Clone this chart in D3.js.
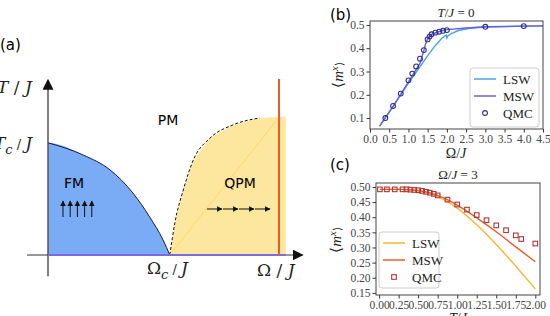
<!DOCTYPE html>
<html>
<head>
<meta charset="utf-8">
<script src="https://cdn.jsdelivr.net/npm/d3@7"></script>
<style>
  body { margin: 0; background: #fff; }
  svg { display: block; }
  .tick text { font-family: "Liberation Serif", serif; font-size: 11.5px; fill: #444; }
  .tick line { stroke: #333; }
  .domain { stroke: none; }
</style>
</head>
<body>
<div id="chart"></div>
<script>
// (a) phase diagram boundaries, [Omega/J, T/J] in schematic units
var fmBoundary = [[0, 0.66], [0.42, 0.588], [0.74, 0.5], [1.01, 0.365], [1.21, 0.224], [1.37, 0.088], [1.45, 0]];
var qpmBoundary = [[1.45, 0], [1.51, 0.188], [1.61, 0.382], [1.73, 0.559], [1.93, 0.688], [2.2, 0.765], [2.52, 0.806], [2.83, 0.814]];
var omegaC = 1.45, tC = 0.66, omegaCut = 2.75, omegaEnd = 2.83;

// (b) T/J = 0
var bQmcOmega = [0.4, 0.6, 0.8, 1.0, 1.1, 1.2, 1.3, 1.4, 1.5, 1.55, 1.6, 1.7, 1.8, 1.9, 2.0, 3.0, 4.0];
var bQmcM = [0.1, 0.152, 0.205, 0.262, 0.291, 0.322, 0.355, 0.392, 0.438, 0.45, 0.46, 0.467, 0.471, 0.475, 0.478, 0.492, 0.495];
var bMswOmega = [0.25, 0.6, 1.0, 1.3, 1.4, 1.45, 1.5, 1.6, 1.8, 2.0, 2.5, 3.0, 4.0, 4.5];
var bMswM = [0.065, 0.15, 0.255, 0.335, 0.39, 0.42, 0.44, 0.46, 0.472, 0.48, 0.487, 0.492, 0.495, 0.496];
var bLswOmega = [0.25, 0.6, 1.0, 1.3, 1.5, 1.7, 1.85, 1.95, 1.99, 2.0, 2.02, 2.1, 2.3, 2.6, 3.0, 4.0, 4.5];
var bLswM = [0.065, 0.15, 0.25, 0.32, 0.368, 0.412, 0.44, 0.453, 0.456, 0.445, 0.452, 0.462, 0.476, 0.486, 0.491, 0.495, 0.496];
var bXTicks = [0, 0.5, 1, 1.5, 2, 2.5, 3, 3.5, 4, 4.5];
var bYTicks = [0.1, 0.2, 0.3, 0.4, 0.5];

// (c) Omega/J = 3
var cQmcT = [0.01, 0.1, 0.2, 0.3, 0.35, 0.4, 0.45, 0.5, 0.55, 0.6, 0.65, 0.7, 0.75, 0.875, 1.0, 1.125, 1.25, 1.375, 1.5, 1.625, 1.75, 1.82, 2.0];
var cQmcM = [0.492, 0.492, 0.492, 0.492, 0.492, 0.491, 0.49, 0.489, 0.487, 0.484, 0.481, 0.477, 0.472, 0.458, 0.442, 0.425, 0.407, 0.39, 0.373, 0.357, 0.34, 0.328, 0.313];
var cMswT = [0.01, 0.25, 0.5, 0.75, 1.0, 1.25, 1.5, 1.75, 2.0];
var cMswM = [0.492, 0.492, 0.488, 0.472, 0.44, 0.398, 0.352, 0.302, 0.253];
var cLswT = [0.01, 0.25, 0.5, 0.75, 1.0, 1.25, 1.5, 1.75, 2.0];
var cLswM = [0.492, 0.492, 0.487, 0.468, 0.43, 0.375, 0.31, 0.238, 0.163];
var cXTicks = [0, 0.25, 0.5, 0.75, 1, 1.25, 1.5, 1.75, 2];
var cYTicks = [0.15, 0.2, 0.25, 0.3, 0.35, 0.4, 0.45, 0.5];

var svg = d3.select('#chart').append('svg').attr('width', 550).attr('height', 316);

var defs = svg.append('defs');
function marker(id, size) {
  defs.append('marker').attr('id', id)
    .attr('viewBox', '0 0 10 10').attr('refX', 9).attr('refY', 5)
    .attr('markerWidth', size).attr('markerHeight', size)
    .attr('markerUnits', 'userSpaceOnUse').attr('orient', 'auto')
    .append('path').attr('d', 'M0,0 L10,5 L0,10 z').attr('fill', '#111');
}
marker('bigArrow', 11);
marker('smallArrow', 6);

// ---------- panel (a) ----------
var xA = d3.scaleLinear().domain([0, 3]).range([48, 300]);
var yA = d3.scaleLinear().domain([0, 1]).range([255, 85]);
var lineA = d3.line().x(d => xA(d[0])).y(d => yA(d[1])).curve(d3.curveMonotoneX);

var fmArea = [[0, 0]].concat(fmBoundary);
svg.append('path').attr('d', lineA(fmArea) + 'Z').attr('fill', '#7aabf5');
var qpmArea = qpmBoundary.concat([[omegaEnd, 0]]);
svg.append('path').attr('d', lineA.curve(d3.curveLinear)(qpmArea) + 'Z').attr('fill', '#fde69d');
lineA.curve(d3.curveMonotoneX);
svg.append('path').attr('d', lineA(fmBoundary)).attr('fill', 'none').attr('stroke', '#1a1a3a').attr('stroke-width', 1);
svg.append('path').attr('d', lineA(qpmBoundary.slice(0, -1))).attr('fill', 'none')
  .attr('stroke', '#111').attr('stroke-width', 1).attr('stroke-dasharray', '3,2');
// faint crossover line
svg.append('line').attr('x1', xA(omegaC)).attr('y1', yA(0)).attr('x2', xA(omegaCut)).attr('y2', yA(0.81))
  .attr('stroke', '#fbd96a').attr('stroke-width', 1);

// axes
svg.append('line').attr('x1', xA(0)).attr('y1', yA(-0.125)).attr('x2', xA(0)).attr('y2', yA(1.03))
  .attr('stroke', '#555').attr('stroke-width', 1.5).attr('marker-end', 'url(#bigArrow)');
svg.append('line').attr('x1', xA(-0.25)).attr('y1', yA(0)).attr('x2', xA(3.03)).attr('y2', yA(0))
  .attr('stroke', '#333').attr('stroke-width', 1.2).attr('marker-end', 'url(#bigArrow)');
svg.append('line').attr('x1', xA(0)).attr('y1', yA(0)).attr('x2', xA(omegaEnd)).attr('y2', yA(0))
  .attr('stroke', '#7b6be0').attr('stroke-width', 2.2);
svg.append('line').attr('x1', xA(omegaCut)).attr('y1', yA(0)).attr('x2', xA(omegaCut)).attr('y2', yA(1.035))
  .attr('stroke', '#f05a28').attr('stroke-width', 2);

// spin arrows
d3.range(5).forEach(function(i) {
  var x = 63 + i * 7.2;
  svg.append('line').attr('x1', x).attr('y1', 217).attr('x2', x).attr('y2', 201)
    .attr('stroke', '#111').attr('stroke-width', 1).attr('marker-end', 'url(#smallArrow)');
});
d3.range(4).forEach(function(i) {
  var x = 207 + i * 16;
  svg.append('line').attr('x1', x).attr('y1', 209).attr('x2', x + 15).attr('y2', 209)
    .attr('stroke', '#111').attr('stroke-width', 1).attr('marker-end', 'url(#smallArrow)');
});

var sans = '"DejaVu Sans", sans-serif';
var serif = '"DejaVu Serif", serif';
svg.append('text').attr('x', 0).attr('y', 50).text('(a)').style('font-family', sans).style('font-size', '15px');
svg.append('text').attr('x', 168).attr('y', 125).attr('text-anchor', 'middle').text('PM').style('font-family', sans).style('font-size', '14px');
svg.append('text').attr('x', 74).attr('y', 188).attr('text-anchor', 'middle').text('FM').style('font-family', sans).style('font-size', '14px');
svg.append('text').attr('x', 240).attr('y', 188).attr('text-anchor', 'middle').text('QPM').style('font-family', sans).style('font-size', '14px');

function mathLabel(x, y, parts, anchor) {
  var t = svg.append('text').attr('x', x).attr('y', y).attr('text-anchor', anchor || 'start')
    .style('font-family', serif).style('font-size', '17px').attr('fill', '#222');
  parts.forEach(function(p) {
    var ts = t.append('tspan').text(p[0]).style('font-style', p[1] ? 'italic' : 'normal');
    if (p[2]) ts.attr('dy', p[2]).style('font-size', '13px');
  });
}
mathLabel(-3, 93, [['T', 1], [' / ', 0], ['J', 1]]);
mathLabel(-6, 149, [['T', 1], ['c', 1, 5], [' / ', 0, -5], ['J', 1]]);
mathLabel(147, 274, [['Ω', 0], ['c', 1, 5], [' / ', 0, -5], ['J', 1]]);
mathLabel(257, 276, [['Ω', 0], [' / ', 0], ['J', 1]]);

// ---------- shared helpers for (b), (c) ----------
function frame(g, x, y) {
  var xr = x.range(), yr = y.range();
  g.append('rect').attr('x', xr[0]).attr('y', yr[1]).attr('width', xr[1] - xr[0]).attr('height', yr[0] - yr[1])
    .attr('fill', 'none').attr('stroke', '#444').attr('stroke-width', 1);
}
function axes(g, x, y, xt, yt, xf, yf) {
  g.append('g').attr('transform', 'translate(0,' + y.range()[0] + ')')
    .call(d3.axisBottom(x).tickValues(xt).tickFormat(d3.format(xf)).tickSize(3.5).tickPadding(2));
  g.append('g').attr('transform', 'translate(' + x.range()[0] + ',0)')
    .call(d3.axisLeft(y).tickValues(yt).tickFormat(d3.format(yf)).tickSize(3.5).tickPadding(2));
}
function italicText(g, x, y, parts, size, anchor, rotate) {
  var t = g.append('text').attr('x', x).attr('y', y).attr('text-anchor', anchor || 'middle')
    .style('font-family', '"Liberation Serif", serif').style('font-size', size + 'px').attr('fill', '#222');
  if (rotate) t.attr('transform', 'rotate(-90,' + x + ',' + y + ')');
  parts.forEach(function(p) {
    var ts = t.append('tspan').text(p[0]).style('font-style', p[1] ? 'italic' : 'normal');
    if (p[2]) ts.attr('dy', p[2]).style('font-size', (size * 0.7) + 'px');
  });
}
function legend(g, x0, y0, w, h, items) {
  g.append('rect').attr('x', x0).attr('y', y0).attr('width', w).attr('height', h).attr('rx', 3)
    .attr('fill', '#fff').attr('fill-opacity', 0.85).attr('stroke', '#ccc');
  items.forEach(function(it, i) {
    var yy = y0 + 11 + i * 17;
    if (it.type === 'line') {
      g.append('line').attr('x1', x0 + 4).attr('x2', x0 + 26).attr('y1', yy).attr('y2', yy)
        .attr('stroke', it.color).attr('stroke-width', 1.5);
    } else {
      it.draw(x0 + 15, yy);
    }
    g.append('text').attr('x', x0 + 33).attr('y', yy + 4.5).text(it.label)
      .style('font-family', '"Liberation Serif", serif').style('font-size', '13px').attr('fill', '#222');
  });
}
function zip(a, b) { return a.map((v, i) => [v, b[i]]); }

// ---------- panel (b) ----------
var gb = svg.append('g');
var xB = d3.scaleLinear().domain([0, 4.5]).range([370, 543]);
var yB = d3.scaleLinear().domain([0.053, 0.517]).range([129, 21]);
var lineB = d3.line().x(d => xB(d[0])).y(d => yB(d[1]));
axes(gb, xB, yB, bXTicks, bYTicks, '.1f', '.1f');
gb.append('path').attr('d', lineB(zip(bLswOmega, bLswM))).attr('fill', 'none').attr('stroke', '#4aa3ea').attr('stroke-width', 1.4);
gb.append('path').attr('d', lineB(zip(bMswOmega, bMswM))).attr('fill', 'none').attr('stroke', '#6a5fd6').attr('stroke-width', 1.4);
gb.selectAll('circle.qmc').data(zip(bQmcOmega, bQmcM)).enter().append('circle')
  .attr('cx', d => xB(d[0])).attr('cy', d => yB(d[1])).attr('r', 2.4)
  .attr('fill', 'none').attr('stroke', '#2f2f8f').attr('stroke-width', 1.1);
frame(gb, xB, yB);
legend(gb, 470, 68, 69, 59, [
  { type: 'line', color: '#4aa3ea', label: 'LSW' },
  { type: 'line', color: '#6a5fd6', label: 'MSW' },
  { type: 'pt', label: 'QMC', draw: function(x, y) {
    gb.append('circle').attr('cx', x).attr('cy', y).attr('r', 2.4).attr('fill', 'none').attr('stroke', '#2f2f8f').attr('stroke-width', 1.1);
  } }
]);
italicText(gb, 456, 17, [['T', 1], ['/', 0], ['J', 1], [' = 0', 0]], 13);
italicText(gb, 456, 158, [['Ω', 0], ['/', 0], ['J', 1]], 14);
italicText(gb, 343, 75, [['⟨', 0], ['m', 1], ['x', 1, -5], ['⟩', 0, 5]], 15, 'middle', true);
svg.append('text').attr('x', 330).attr('y', 20).text('(b)').style('font-family', sans).style('font-size', '15px');

// ---------- panel (c) ----------
var gc = svg.append('g');
var xC = d3.scaleLinear().domain([-0.04, 2.06]).range([376, 540]);
var yC = d3.scaleLinear().domain([0.143, 0.513]).range([295, 183]);
var lineC = d3.line().x(d => xC(d[0])).y(d => yC(d[1])).curve(d3.curveMonotoneX);
axes(gc, xC, yC, cXTicks, cYTicks, '.2f', '.2f');
gc.append('path').attr('d', lineC(zip(cLswT, cLswM))).attr('fill', 'none').attr('stroke', '#f7b733').attr('stroke-width', 1.4);
gc.append('path').attr('d', lineC(zip(cMswT, cMswM))).attr('fill', 'none').attr('stroke', '#ec5a2c').attr('stroke-width', 1.4);
gc.selectAll('rect.qmc').data(zip(cQmcT, cQmcM)).enter().append('rect')
  .attr('x', d => xC(d[0]) - 2.3).attr('y', d => yC(d[1]) - 2.3).attr('width', 4.6).attr('height', 4.6)
  .attr('fill', 'none').attr('stroke', '#b03838').attr('stroke-width', 1.1);
frame(gc, xC, yC);
legend(gc, 379, 232, 60, 56, [
  { type: 'line', color: '#f7b733', label: 'LSW' },
  { type: 'line', color: '#ec5a2c', label: 'MSW' },
  { type: 'pt', label: 'QMC', draw: function(x, y) {
    gc.append('rect').attr('x', x - 2.3).attr('y', y - 2.3).attr('width', 4.6).attr('height', 4.6).attr('fill', 'none').attr('stroke', '#b03838').attr('stroke-width', 1.1);
  } }
]);
italicText(gc, 458, 179, [['Ω', 0], ['/', 0], ['J', 1], [' = 3', 0]], 13);
italicText(gc, 458, 323, [['T', 1], ['/', 0], ['J', 1]], 14);
italicText(gc, 341, 240, [['⟨', 0], ['m', 1], ['x', 1, -5], ['⟩', 0, 5]], 15, 'middle', true);
svg.append('text').attr('x', 330).attr('y', 170).text('(c)').style('font-family', sans).style('font-size', '15px');
</script>
</body>
</html>
